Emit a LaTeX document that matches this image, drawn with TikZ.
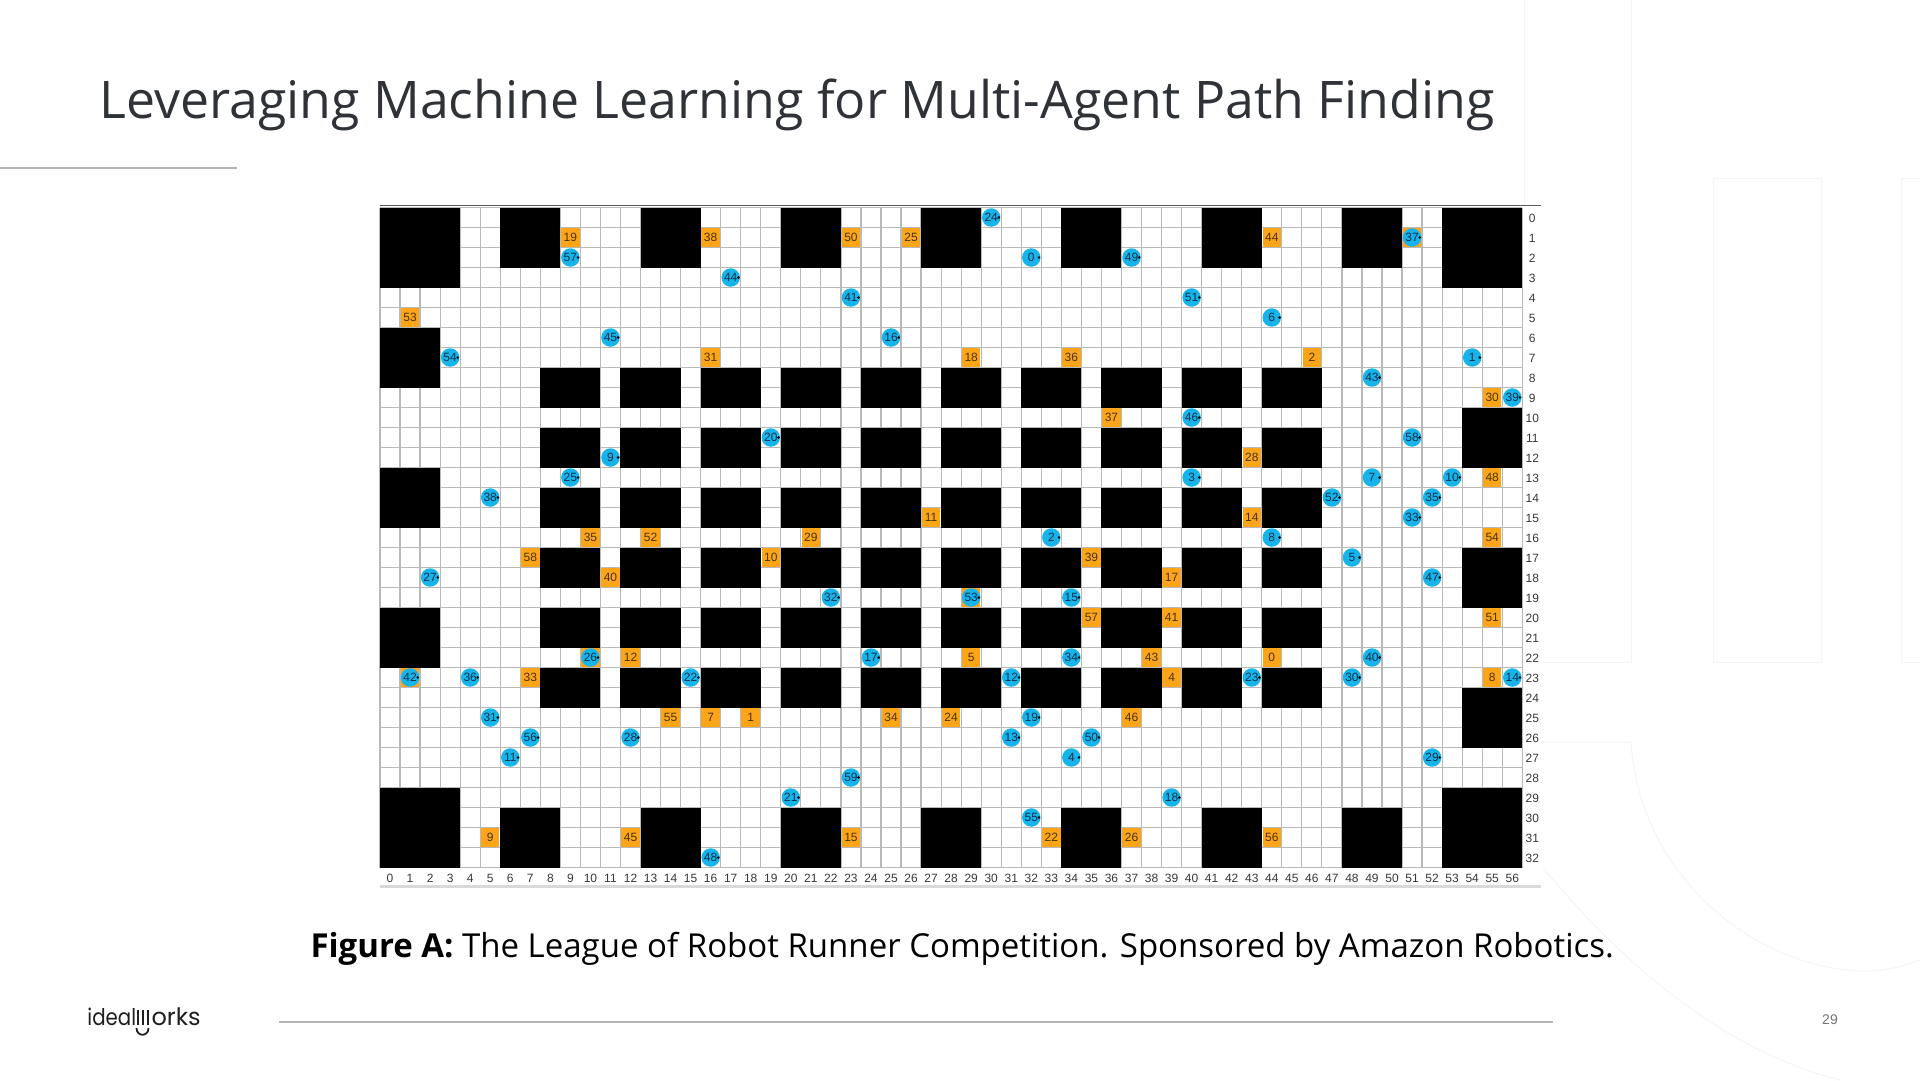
\documentclass[tikz,border=0pt]{standalone}
\usepackage{fontspec}
\setmainfont{Liberation Sans}
\newfontfamily\headfont{Open Sans}
\newfontfamily\logofont{Poppins}
\definecolor{taskorange}{HTML}{FCA519}
\definecolor{agentblue}{HTML}{16B4EA}
\definecolor{agentink}{HTML}{0A2F4A}
\definecolor{taskink}{HTML}{4A3208}
\definecolor{gridgrey}{HTML}{B9B9B9}
\definecolor{rulegrey}{HTML}{B4B4B4}
\definecolor{faintgrey}{HTML}{F5F5F5}
\definecolor{headink}{HTML}{2F3236}
\tikzset{
  task/.style={fill=taskorange, text=taskink, minimum size=18.5pt},
  agent/.style={circle, fill=agentblue, text=agentink, minimum size=18.5pt,
    path picture={\fill[black] ([xshift=-1.6pt]path picture bounding box.east) circle (1.4pt);}},
  axislabel/.style={text=black!78},
  block/.style={fill=black}
}
\begin{document}
\begin{tikzpicture}[x=1pt, y=-1pt, line width=1pt, every node/.style={font=\fontsize{12}{14}\selectfont, inner sep=0pt}]
  \useasboundingbox (0,0) rectangle (1920,1080);
  \draw[faintgrey] (1524,0) -- (1524,662) -- (1631,662) -- (1631,0);
  \draw[faintgrey] (1713,178) rectangle (1821,662);
  \draw[faintgrey] (1920,178) -- (1901,178) -- (1901,662) -- (1920,662);
  \draw[faintgrey] (1540,742) -- (1631,742) .. controls (1640,880) and (1760,971) .. (1867,971) .. controls (1885,971) and (1905,966) .. (1920,960);
  \draw[faintgrey] (1543,868) .. controls (1620,960) and (1720,1050) .. (1840,1080);
  \fill[white] (380,206) rectangle (1541,888);
  \node[anchor=base west, font=\headfont\fontsize{51.8}{60}\selectfont, text=headink] (title) at (99,118) {Leveraging Machine Learning for Multi-Agent Path Finding};
  \coordinate (titleruleL) at (0,168);
  \coordinate (titleruleR) at (237,168);
  \draw[rulegrey, line width=1.3pt] (titleruleL) -- (titleruleR);
  \begin{scope}[shift={(380,207.5)}, x=20.04pt, y=-20pt]
    \foreach \c in {0,...,57} \draw[gridgrey, line width=1.2pt] (\c,0) -- (\c,33);
    \foreach \r in {0,...,33} \draw[gridgrey, line width=1.2pt] (0,\r) -- (57,\r);
    \draw[black!65, line width=1.2pt] (0,-.1) -- (57.95,-.1);
    \draw[black!15, line width=2.4pt] (0,33.95) -- (57.95,33.95);
    \foreach \xa/\ya/\xb/\yb in {0/0/4/4, 6/0/9/3, 13/0/16/3, 20/0/23/3, 27/0/30/3, 34/0/37/3, 41/0/44/3, 48/0/51/3, 53/0/57/4,
      0/6/3/9, 0/13/3/16, 0/20/3/23, 54/10/57/13, 54/17/57/20, 54/24/57/27,
      0/29/4/33, 6/30/9/33, 13/30/16/33, 20/30/23/33, 27/30/30/33, 34/30/37/33, 41/30/44/33, 48/30/51/33, 53/29/57/33}
      \fill[block] (\xa,\ya) rectangle (\xb,\yb);
    \foreach \xa in {8,12,...,44} \foreach \ya in {8,11,...,23}
      \fill[block] (\xa,\ya) rectangle (\xa+3,\ya+2);
    \foreach \c in {0,...,56} \node[axislabel] (col\c) at (\c+.5,33.53) {\c};
    \foreach \r in {0,...,32} \node[axislabel] (row\r) at (57.5,\r+.53) {\r};
    \foreach \c/\r in {51/1, 1/23, 10/22, 29/19} \node[task] (under\c) at (\c+.5,\r+.5) {};
    \foreach \c/\r/\n in {9/1/19, 16/1/38, 23/1/50, 26/1/25, 44/1/44, 1/5/53, 16/7/31, 29/7/18, 34/7/36, 46/7/2,
      55/9/30, 36/10/37, 43/12/28, 55/13/48, 27/15/11, 43/15/14, 10/16/35, 13/16/52, 21/16/29, 55/16/54,
      7/17/58, 19/17/10, 35/17/39, 11/18/40, 39/18/17, 35/20/57, 39/20/41, 55/20/51, 12/22/12, 29/22/5, 38/22/43, 44/22/0,
      7/23/33, 39/23/4, 55/23/8, 14/25/55, 16/25/7, 18/25/1, 25/25/34, 28/25/24, 37/25/46,
      5/31/9, 12/31/45, 23/31/15, 33/31/22, 37/31/26, 44/31/56}
      \node[task] (task\n) at (\c+.5,\r+.5) {\n};
    \foreach \c/\r/\n in {30/0/24, 51/1/37, 9/2/57, 32/2/0, 37/2/49, 17/3/44, 23/4/41, 40/4/51, 44/5/6, 11/6/45, 25/6/16,
      3/7/54, 54/7/1, 49/8/43, 56/9/39, 40/10/46, 19/11/20, 51/11/58, 11/12/9, 9/13/25, 40/13/3, 49/13/7, 53/13/10,
      5/14/38, 47/14/52, 52/14/35, 51/15/33, 33/16/2, 44/16/8, 48/17/5, 2/18/27, 52/18/47, 22/19/32, 29/19/53, 34/19/15,
      10/22/26, 24/22/17, 34/22/34, 49/22/40, 1/23/42, 4/23/36, 15/23/22, 31/23/12, 43/23/23, 48/23/30, 56/23/14,
      5/25/31, 32/25/19, 7/26/56, 12/26/28, 31/26/13, 35/26/50, 6/27/11, 34/27/4, 52/27/29, 23/28/59,
      20/29/21, 39/29/18, 32/30/55, 16/32/48}
      \node[agent] (agent\n) at (\c+.5,\r+.5) {\n};
  \end{scope}
  \node[anchor=base west, font=\headfont\fontsize{33}{38}\selectfont, text=black] (caption) at (310,957) {{\bfseries Figure A:} The League of Robot Runner Competition. Sponsored by Amazon Robotics.};
  \node[anchor=base west, xscale=.86, transform shape, font=\logofont\fontsize{23}{26}\selectfont, text=black!88] (logoleft) at (87,1025) {ideal};
  \node[anchor=base west, font=\logofont\fontsize{24}{26}\selectfont, text=black!88] (logoright) at (151,1025) {orks};
  \draw[black!88, line width=1.6pt] (138,1010) -- (138,1025) (143,1010) -- (143,1025) (148,1010) -- (148,1025);
  \draw[black!88, line width=1.8pt] (136.5,1028) .. controls (136.5,1037) and (148.5,1037) .. (148.5,1028);
  \coordinate (footruleL) at (279,1022);
  \coordinate (footruleR) at (1553,1022);
  \draw[rulegrey, line width=1.3pt] (footruleL) -- (footruleR);
  \node[font=\fontsize{14}{16}\selectfont, text=black!55] (pageno) at (1830,1020) {29};
\end{tikzpicture}
\end{document}
